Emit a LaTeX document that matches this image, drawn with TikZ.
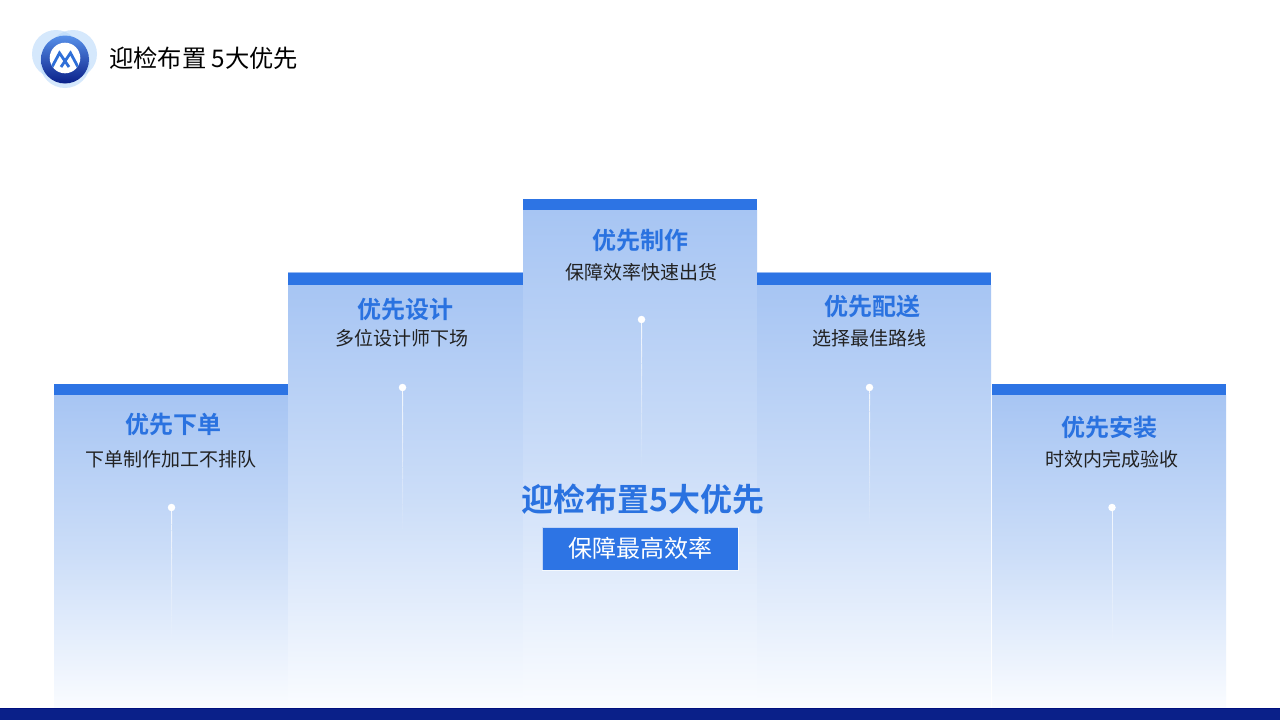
\documentclass[tikz,border=0pt]{standalone}
\usepackage{fontspec}
\usetikzlibrary{calc}
\setmainfont{Noto Sans CJK SC}
\newfontfamily\cjkbold{Noto Sans CJK SC Bold}
\definecolor{hdr}{HTML}{2D74E4}
\definecolor{ttl}{HTML}{2A72E0}
\definecolor{coltop}{HTML}{A7C5F3}
\definecolor{colmid}{HTML}{CBDDF8}
\definecolor{colbot}{HTML}{FAFCFF}
\definecolor{navy}{HTML}{0A2089}
\definecolor{navyedge}{HTML}{00107F}
\definecolor{sub}{HTML}{222222}
\definecolor{halo}{HTML}{B3D6FB}
\definecolor{markblue}{HTML}{2F6FD8}
\tikzset{
  x=1pt,y=-1pt,
  colbody/.style={top color=coltop,bottom color=colbot,middle color=colmid,draw=none},
  colhead/.style={fill=hdr,draw=none},
  headtext/.style={font=\cjkbold\fontsize{24}{24}\selectfont,text=ttl,inner sep=0pt,anchor=center},
  subtext/.style={font=\fontsize{19}{19}\selectfont,text=sub,inner sep=0pt,anchor=center},
  dotnode/.style={circle,fill=white,minimum size=7.5pt,inner sep=0pt},
  halolobe/.style={fill=halo,fill opacity=.55,draw=none},
  markline/.style={draw=markblue,line width=2.8pt,line join=miter}
}
\newcommand{\stemline}[2]{%
  \foreach \i in {0,...,23}{%
    \pgfmathsetmacro{\ta}{\i/24}%
    \pgfmathsetmacro{\tb}{(\i+1)/24}%
    \pgfmathsetmacro{\op}{0.85*(1-(\i+0.5)/24)}%
    \draw[white,line width=1pt,opacity=\op] ($(#1)!\ta!(#2)$) -- ($(#1)!\tb!(#2)$);%
  }%
}
\begin{document}
\begin{tikzpicture}
\useasboundingbox (0,0) rectangle (1280,720);
\fill[white] (0,0) rectangle (1280,720);
% logo
\fill[halolobe] (56,54) circle (24);
\fill[halolobe] (73,54) circle (24);
\fill[halolobe] (65,63) circle (25);
\shade[top color=hdr!80!white,bottom color=navy] (65,59.5) circle (24);
\fill[white] (65,58) circle (15.3);
\begin{scope}
\clip (65,58) circle (15.3);
\draw[markline] (52,67) -- (59.5,53) -- (69,67);
\draw[markline] (78,67) -- (70.5,53) -- (61,67);
\end{scope}
\node[font=\fontsize{24.3}{24}\selectfont,text=black,inner sep=0pt,anchor=west] (title) at (109,58) {迎检布置 5大优先};
% columns
\shade[colbody] (54,395) rectangle (288,708);
\shade[colbody] (288,285) rectangle (523,708);
\shade[colbody] (523,210) rectangle (757,708);
\shade[colbody] (757,285) rectangle (991,708);
\shade[colbody] (992,395) rectangle (1226,708);
\fill[colhead] (54,384) rectangle (288,395);
\fill[colhead] (288,273) rectangle (523,285);
\fill[colhead] (523,199) rectangle (757,210);
\fill[colhead] (757,273) rectangle (991,285);
\fill[colhead] (992,384) rectangle (1226,395);
\fill[color=hdr!50!white] (288,272) rectangle (523,273.2);
\fill[color=hdr!50!white] (757,272) rectangle (991,273.2);
% bottom bar
\fill[navy] (0,708) rectangle (1280,720);
\fill[navyedge] (0,708) rectangle (1280,709);
% labels
\node[headtext] (h1) at (173,424) {优先下单};
\node[subtext] (s1) at (171,459.5) {下单制作加工不排队};
\node[headtext] (h2) at (405,309) {优先设计};
\node[subtext] (s2) at (401.5,338.5) {多位设计师下场};
\node[headtext] (h3) at (640,240) {优先制作};
\node[subtext] (s3) at (641,272.5) {保障效率快速出货};
\node[headtext] (h4) at (872,306) {优先配送};
\node[subtext] (s4) at (869,338.5) {选择最佳路线};
\node[headtext] (h5) at (1109,427) {优先安装};
\node[subtext] (s5) at (1111.5,459.5) {时效内完成验收};
% dots and stems
\coordinate (e1) at (171.5,645);
\coordinate (e2) at (402.5,535);
\coordinate (e3) at (641.5,470);
\coordinate (e4) at (869.5,530);
\coordinate (e5) at (1112,650);
\node[dotnode] (d1) at (171.5,507.5) {};
\node[dotnode] (d2) at (402.5,387.5) {};
\node[dotnode] (d3) at (641.5,319.5) {};
\node[dotnode] (d4) at (869.5,387.5) {};
\node[dotnode] (d5) at (1112,507.5) {};
\stemline{d1}{e1}
\stemline{d2}{e2}
\stemline{d3}{e3}
\stemline{d4}{e4}
\stemline{d5}{e5}
% centre
\node[font=\cjkbold\fontsize{32}{32}\selectfont,text=ttl,inner sep=0pt] (main) at (643,499.5) {迎检布置5大优先};
\node[draw=white,draw opacity=.7,line width=.5pt,fill=hdr,minimum width=196pt,minimum height=43pt,inner sep=0pt,text=white,font=\fontsize{24}{24}\selectfont] (badge) at (640,548.5) {保障最高效率};
\end{tikzpicture}
\end{document}
